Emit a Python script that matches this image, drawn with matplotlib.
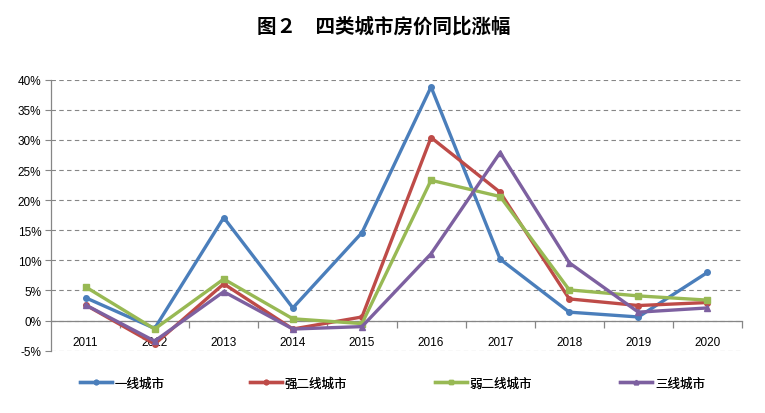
import matplotlib
matplotlib.use("Agg")
import matplotlib.pyplot as plt
from matplotlib.ticker import FixedLocator, FuncFormatter

plt.rcParams['font.family'] = ['Noto Sans CJK SC', 'DejaVu Sans']

years = ['2011', '2012', '2013', '2014', '2015', '2016', '2017', '2018', '2019', '2020']
tier1 = [3.8, -1.3, 17.1, 2.1, 14.6, 38.8, 10.2, 1.4, 0.6, 8.0]
strong2 = [2.6, -3.9, 6.1, -1.4, 0.6, 30.4, 21.3, 3.6, 2.5, 3.0]
weak2 = [5.6, -1.4, 6.9, 0.3, -0.5, 23.3, 20.6, 5.1, 4.1, 3.4]
tier3 = [2.6, -3.4, 4.8, -1.4, -1.0, 11.1, 27.9, 9.6, 1.4, 2.1]
series_names = ['一线城市', '强二线城市', '弱二线城市', '三线城市']
yticks = [-5, 0, 5, 10, 15, 20, 25, 30, 35, 40]
title = '图２　四类城市房价同比涨幅'

colors = ['#4A7EBB', '#BE4B48', '#98B954', '#7D60A0']
markers = ['o', 'o', 's', '^']

fig = plt.figure(figsize=(7.65, 4.14), dpi=100)
ax = fig.add_axes([51/765, 62.3/414, 691/765, 271/414])

x = list(range(1, len(years) + 1))
handles = []
for vals, name, c, m in zip([tier1, strong2, weak2, tier3], series_names, colors, markers):
    h, = ax.plot(x, vals, color=c, lw=2.4, marker=m, markersize=4, label=name, zorder=3)
    handles.append(h)

ax.set_xlim(0.5, len(years) + 0.5)
ax.set_ylim(-5, 40)
ax.set_yticks(yticks)
ax.yaxis.set_major_formatter(FuncFormatter(lambda v, p: f'{int(v)}%'))
for lab in ax.get_yticklabels():
    lab.set_family(['Liberation Sans', 'DejaVu Sans'])
    lab.set_fontsize(8.5)
ax.tick_params(axis='y', length=4, color='#868686', width=0.8, pad=3)

ax.grid(axis='y', color='#868686', linestyle=(0, (4, 3)), lw=0.8, zorder=0)
ax.set_axisbelow(True)

for s in ['top', 'right']:
    ax.spines[s].set_visible(False)
ax.spines['left'].set_color('#868686')
ax.spines['left'].set_linewidth(0.9)
ax.spines['bottom'].set_position(('data', 0))
ax.spines['bottom'].set_color('#868686')
ax.spines['bottom'].set_linewidth(0.9)

ax.set_xticks(x)
ax.set_xticklabels(years, family=['Liberation Sans', 'DejaVu Sans'], fontsize=8.5)
ax.tick_params(axis='x', which='major', length=0, pad=11)
ax.xaxis.set_minor_locator(FixedLocator([i + 0.5 for i in range(1, len(years) + 1)]))
ax.tick_params(axis='x', which='minor', length=5, color='#868686', width=0.9)

fig.text(384/765, 1 - 27/414, title, ha='center', va='center', fontsize=14, fontweight='bold')

leg_x = [76, 246, 431, 616]
for h, name, lx in zip(handles, series_names, leg_x):
    lg = fig.legend([h], [name], loc='center left', bbox_to_anchor=(lx/765, 1 - 384/414),
                    frameon=False, fontsize=9, handlelength=2.6, handletextpad=0.2,
                    markerscale=0.8, borderaxespad=0, borderpad=0.3)
    fig.add_artist(lg)

fig.savefig('out.png', dpi=100)
